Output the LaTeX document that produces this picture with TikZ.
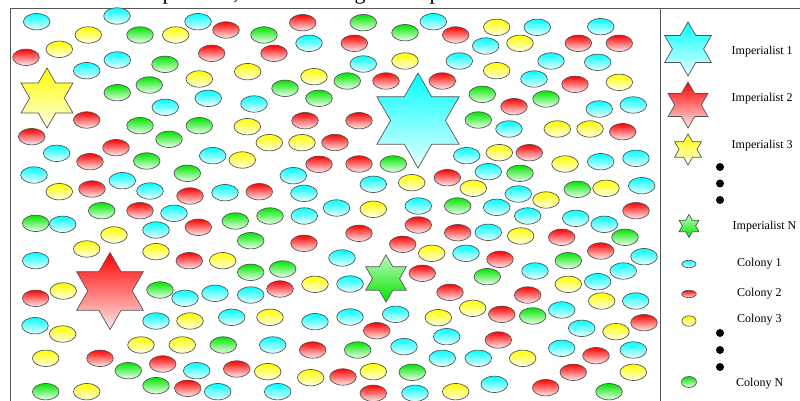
\documentclass[tikz,border=0pt]{standalone}
\usepackage{fontspec}
\setmainfont{Liberation Serif}
\definecolor{cyT}{RGB}{0,255,255}\definecolor{cyB}{RGB}{235,255,255}
\definecolor{rdT}{RGB}{255,0,0}\definecolor{rdB}{RGB}{255,235,235}
\definecolor{ylT}{RGB}{255,255,0}\definecolor{ylB}{RGB}{255,255,230}
\definecolor{grT}{RGB}{0,230,0}\definecolor{grB}{RGB}{235,255,235}
\definecolor{grS}{RGB}{190,250,190}
\definecolor{edge}{RGB}{85,85,85}
\newcommand\hexa[4]{\shadedraw[#1,shift={(#2,{401-#3})}] (90:#4) -- (120:{#4*0.57735}) -- (150:#4) -- (180:{#4*0.57735}) -- (210:#4) -- (240:{#4*0.57735}) -- (270:#4) -- (300:{#4*0.57735}) -- (330:#4) -- (0:{#4*0.57735}) -- (30:#4) -- (60:{#4*0.57735}) -- cycle;}
\begin{document}
\begin{tikzpicture}[x=1pt,y=1pt,
  outl/.style={draw=edge,line width=0.7pt},
  cy/.style={outl,top color=cyT,bottom color=cyB},
  rd/.style={outl,top color=rdT,bottom color=rdB},
  yl/.style={outl,top color=ylT,bottom color=ylB},
  gr/.style={outl,top color=grT,bottom color=grB},
  grstar/.style={outl,top color=grS,bottom color=grT},
  frame/.style={draw=edge,line width=0.9pt},
  leg/.style={anchor=base west,inner sep=0pt,font=\fontsize{12}{12}\selectfont},
  frag/.style={anchor=base,inner sep=0pt,font=\fontsize{22}{22}\selectfont},
  dot/.style={fill=black}]
\useasboundingbox (0,0) rectangle (800,401);
\fill[white] (0,0) rectangle (800,401);
% fragments of a text line above, cut off
\node[frag] (f1) at (168,401) {p};
\node[frag] (f2) at (236,401) {,};
\node[frag] (f3) at (360,401) {g};
\node[frag] (f4) at (435,401) {p};
% frame
\draw[frame] (10,0) -- (10,393) -- (800,393);
\draw[frame] (660,0) -- (660,393);
% cyan colonies
\foreach \x/\y in {36.7/21.7, 117/16, 198/21.7, 309/43.3, 117.3/60, 86.7/70.7, 208.3/98.3, 165.3/107.3, 254/104, 56.7/153.3, 212.7/155.7, 34/175, 293.3/175.7, 122.3/180.7, 150/191, 225/192.7, 304/193.3,
174/213.3, 336.5/208, 62.7/224.3, 156/230, 304.3/216, 35.7/260.7, 342/258, 185/298.3, 215/293.3, 250.7/295, 350/284, 35/325.7, 156/321, 231.7/317.3, 315/321.7, 350/317, 272.7/345, 196.7/370.7, 217.7/391.7, 277.7/391.7,
433.3/21.7, 537.3/27.3, 600.7/26.7, 485.7/46, 363.3/64, 459.3/61, 551/61, 597.7/62.3, 534/79, 599.3/109, 633.3/105, 509/129, 466.7/155.7, 600.7/161.7, 636/158.3, 488.3/171.7, 373.3/184.3, 518.3/194, 641.7/185.7,
418.3/206, 496.7/207.3, 527.7/216, 575.7/218.3, 604.3/224.3, 488.3/232.3, 466/253.3, 644/256.7, 535/271, 623.3/271, 597.7/281.7, 635.7/301, 395.7/314.3, 561.7/310, 581.7/328.3, 446.7/336.7, 404/346.7, 561.7/348.3, 633.3/350, 442.3/358.3, 478.3/358.3, 415/393.3, 494.3/384.3}
  \path[cy] (\x,{401-\y}) ellipse[x radius=13.3,y radius=8.2];
% red colonies
\foreach \x/\y in {226/30, 302.7/22.7, 26/57.3, 211.7/53.3, 274/53.3, 86.7/120, 305/120.7, 31.7/136.7, 335/142.5, 116/147.7, 90/161.7, 319/164.3, 92/189, 190/196, 259.3/191.7,
140/210.7, 198.3/227.3, 304/243.3, 189.3/260.7, 35.7/298.3, 280/289, 312.7/350, 100/358.3, 162.7/364, 236.7/369, 343/377, 187.7/388.3,
455.7/35, 354.3/43.3, 578.3/43.3, 619.3/43.3, 386/81, 442.3/81, 575/84.3, 514/106.7, 359/120.7, 622.7/131.7, 529.3/152.7, 359/164, 447.3/177.7,
636/210.7, 359/233.3, 418.3/225, 457.7/232.7, 561.7/237.3, 402.7/244.3, 500/259.3, 600.7/251, 422.3/273.3, 450/292.3, 527.7/295, 501.7/314.3, 644/322.7, 376.7/330.7, 498.3/340, 596/355.7, 573.3/372.3, 373.3/393.3, 545.7/387.7}
  \path[rd] (\x,{401-\y}) ellipse[x radius=13.3,y radius=8.2];
% yellow colonies
\foreach \x/\y in {88.3/35, 175.7/35, 59.3/49.3, 247.7/71.7, 199.3/79, 314/76.7, 247.3/126.7, 269.3/142.7, 302/142.7, 242.3/160, 59.3/191.7,
114/235, 86.7/249, 156/251.7, 222.7/260.7, 63.3/291, 315/284.3, 62.7/334, 190/321, 270/317.3, 141/345, 182.3/345, 45.7/358.3, 267.7/371.7, 310.7/377.7, 86.7/391.7,
496.7/27.3, 520/43.3, 405/61, 496.7/70.7, 619.3/82.3, 557.3/129, 590/129, 499.3/152.7, 565/164, 411.7/182.7, 473.3/188.3, 606/188.3, 546/200,
373.3/209.3, 520.7/236, 431.7/253.3, 568.3/284.3, 601.7/301, 472.7/308.3, 438.3/317.7, 616/331.7, 522.7/358.3, 373.3/371.7, 633.3/372.3, 455.7/391.7}
  \path[yl] (\x,{401-\y}) ellipse[x radius=13.3,y radius=8.2];
% green colonies
\foreach \x/\y in {140/35, 264/35, 165/64.3, 149.3/85, 117.3/92.7, 285/88.3, 319/98.3, 140/125.7, 199.3/125.7, 169/139.3, 146.7/161, 187.3/173.3,
101.7/210.7, 35.7/223.3, 235.3/221, 270/216, 250.7/240.7, 250.7/272.3, 282.7/269, 160/290, 223.3/345, 128.3/370.7, 45.7/391.7, 156/385.7,
363.3/22.7, 405/32.7, 347.3/81, 482.3/94.3, 546/99, 478.3/120, 393.3/164, 520/173.3, 577.3/189.3,
457.7/206, 625/237.3, 568.3/260.7, 487.3/276.7, 532.7/316, 357.7/350, 412.3/372.3, 609/391.7}
  \path[gr] (\x,{401-\y}) ellipse[x radius=13.3,y radius=8.2];
% imperialists
\hexa{cy}{418}{120.5}{47.5}
\hexa{yl}{47}{98}{30}
\hexa{rd}{110}{291}{38.5}
\hexa{grstar}{386}{278.5}{23.5}
% legend
\hexa{cy}{688}{49}{27}
\hexa{rd}{688}{105}{23}
\hexa{yl}{688}{149.5}{15.5}
\hexa{grstar}{689}{226}{11.5}
\node[leg] (i1) at (731.5,{401-55}) {Imperialist 1};
\node[leg] (i2) at (731.5,{401-102}) {Imperialist 2};
\node[leg] (i3) at (731.5,{401-149}) {Imperialist 3};
\node[leg] (iN) at (732.5,{401-230}) {Imperialist N};
\fill[dot] (720,{401-167}) circle (4);
\fill[dot] (720,{401-183.5}) circle (4);
\fill[dot] (720,{401-200}) circle (4);
\path[cy] (689,{401-264}) ellipse[x radius=7,y radius=3.7];
\path[rd] (689,{401-294}) ellipse[x radius=7.3,y radius=3.7];
\path[yl] (689,{401-321}) ellipse[x radius=7,y radius=5.2];
\path[gr] (689,{401-382}) ellipse[x radius=7.5,y radius=5.5];
\node[leg] (c1) at (737,{401-267}) {Colony 1};
\node[leg] (c2) at (737,{401-297}) {Colony 2};
\node[leg] (c3) at (737,{401-323}) {Colony 3};
\node[leg] (cN) at (736,{401-387}) {Colony N};
\fill[dot] (720,{401-333}) circle (4);
\fill[dot] (720,{401-350}) circle (4);
\fill[dot] (720,{401-367}) circle (4);
\end{tikzpicture}
\end{document}
